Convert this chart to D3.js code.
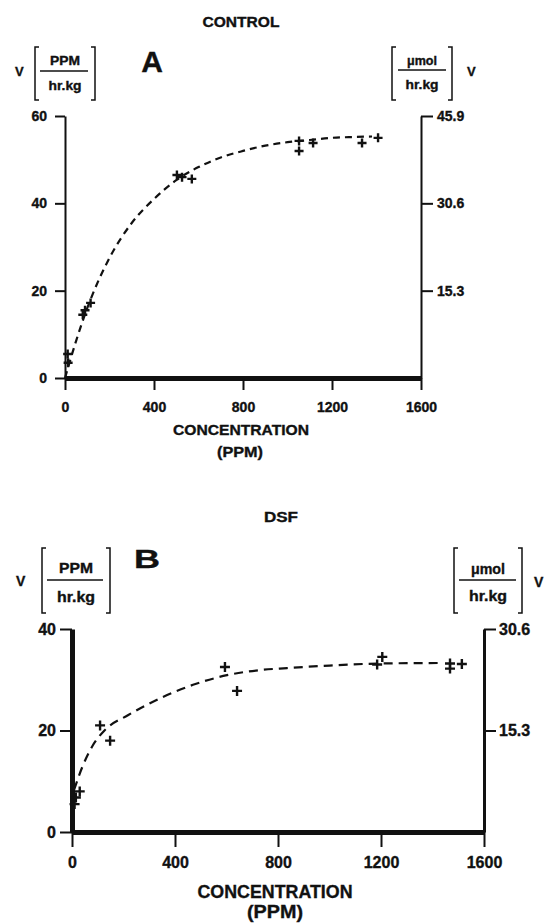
<!DOCTYPE html>
<html>
<head>
<meta charset="utf-8">
<script src="https://cdn.jsdelivr.net/npm/d3@7"></script>
<style>
  body { margin: 0; background: #fff; }
  svg { display: block; }
  text { font-family: "Liberation Sans", Arial, sans-serif; font-weight: bold; fill: #111; stroke: #111; stroke-width: 0.35px; }
</style>
</head>
<body>
<div id="wrapper"></div>
<script>
// Data (concentration in PPM, rate V in PPM/hr.kg)
const xTicks = [0, 400, 800, 1200, 1600];
const yTicksA = [0, 20, 40, 60];
const yTicksB = [0, 20, 40];
const rightTicksA = [15.3, 30.6, 45.9];
const rightTicksB = [15.3, 30.6];
const umolPerPpm = 45.9 / 60;

// Panel A: control
const concA = [12, 14, 80, 90, 115, 503, 526, 570, 1052, 1052, 1115, 1335, 1407];
const rateA = [5.5, 3.5, 14.5, 15.5, 17.2, 46.5, 46.0, 45.6, 54.3, 52.0, 53.8, 53.8, 55.0];
const curveConcA = [0, 50, 100, 200, 300, 400, 500, 600, 700, 800, 900, 1000, 1100, 1200, 1300, 1380];
const curveRateA = [0, 8.5, 16, 27.5, 35.5, 41, 45.3, 48.3, 50.5, 52, 53.2, 54, 54.5, 55, 55.2, 55.3];

// Panel B: DSF
const concB = [10, 15, 30, 109, 148, 594, 641, 1185, 1205, 1468, 1468, 1514];
const rateB = [5.5, 6.8, 8.0, 21.0, 18.0, 32.5, 27.8, 33.0, 34.5, 32.2, 33.2, 33.1];
const curveConcB = [8, 40, 80, 128, 217, 353, 470, 602, 730, 835, 1000, 1200, 1420];
const curveRateB = [8.3, 12.8, 17, 20.1, 23, 26.6, 29, 30.9, 31.9, 32.3, 32.8, 33.2, 33.3];

const svg = d3.select("#wrapper")
  .append("svg")
    .attr("width", 548)
    .attr("height", 923);

function label(str, x, y, size, anchor, len) {
  const t = svg.append("text")
    .attr("x", x)
    .attr("y", y)
    .attr("font-size", size)
    .attr("text-anchor", anchor || "start")
    .text(str);
  if (len) t.attr("textLength", len).attr("lengthAdjust", "spacingAndGlyphs");
  return t;
}

// bracketed unit fraction, e.g. [ PPM / hr.kg ]
function unitBox(b) {
  const g = svg.append("g").attr("fill", "none").attr("stroke", "#111").attr("stroke-width", 1.5);
  g.append("path").attr("d", `M${b.x0 + 4},${b.y0}H${b.x0}V${b.y1}H${b.x0 + 4}`);
  g.append("path").attr("d", `M${b.x1 - 4},${b.y0}H${b.x1}V${b.y1}H${b.x1 - 4}`);
  g.append("line")
    .attr("x1", b.lx0).attr("x2", b.lx1)
    .attr("y1", b.ly).attr("y2", b.ly)
    .attr("stroke-width", 1.5);
  const cx = (b.x0 + b.x1) / 2;
  label(b.num, cx, b.numY, b.size, "middle", b.numLen);
  label(b.den, cx, b.denY, b.size, "middle", b.denLen);
}

function drawPanel(p) {
  const x = d3.scaleLinear().domain([0, 1600]).range([p.left, p.right]);
  const y = d3.scaleLinear().domain([0, p.yMax]).range([p.bottom, p.top]);
  const yR = d3.scaleLinear().domain([0, p.yMax * umolPerPpm]).range([p.bottom, p.top]);

  const left = svg.append("g")
    .attr("transform", `translate(${p.left},0)`)
    .call(d3.axisLeft(y).tickValues(p.yTicks).tickSize(p.tickLen).tickSizeOuter(0)
      .tickPadding(p.padLeft).tickFormat(d3.format("d")));
  left.select(".domain").attr("stroke-width", p.leftW);

  const right = svg.append("g")
    .attr("transform", `translate(${p.right},0)`)
    .call(d3.axisRight(yR).tickValues(p.rightTicks).tickSize(12).tickSizeOuter(0)
      .tickPadding(p.padRight).tickFormat(d3.format(".1f")));
  right.select(".domain").attr("stroke-width", p.rightW);

  const bottom = svg.append("g")
    .attr("transform", `translate(0,${p.bottom})`)
    .call(d3.axisBottom(x).tickValues(xTicks).tickSize(p.xTickLen).tickSizeOuter(0)
      .tickPadding(p.padBottom).tickFormat(d3.format("d")));
  bottom.select(".domain").attr("stroke-width", p.bottomW);

  [left, right, bottom].forEach(a => {
    a.attr("font-family", null).attr("font-size", p.tickFont);
    a.selectAll(".tick line").attr("stroke", "#111").attr("stroke-width", 2);
    a.select(".domain").attr("stroke", "#111");
    a.selectAll(".tick text").attr("fill", "#111");
  });

  const line = d3.line()
    .x(d => x(d[0]))
    .y(d => y(d[1]))
    .curve(d3.curveMonotoneX);

  svg.append("path")
    .datum(p.curveConc.map((c, i) => [c, p.curveRate[i]]))
    .attr("fill", "none")
    .attr("stroke", "#111")
    .attr("stroke-width", 2.2)
    .attr("stroke-dasharray", p.dash)
    .attr("d", line);

  const s = p.crossSize;
  svg.append("g")
    .selectAll("path")
    .data(p.conc.map((c, i) => [c, p.rate[i]]))
    .join("path")
      .attr("transform", d => `translate(${x(d[0])},${y(d[1])})`)
      .attr("d", `M${-s},0H${s}M0,${-s}V${s}`)
      .attr("stroke", "#111")
      .attr("stroke-width", 2.4);
}

// ---------- Panel A ----------
label("CONTROL", 241, 27, 14, "middle", 77);
label("V", 15, 76, 13, "start");
unitBox({ x0: 35, x1: 95, y0: 47, y1: 100, lx0: 40, lx1: 88, ly: 71,
  num: "PPM", numY: 65, numLen: 30, den: "hr.kg", denY: 90, denLen: 33, size: 12 });
label("A", 152, 72, 30, "middle");
unitBox({ x0: 392, x1: 452, y0: 47, y1: 100, lx0: 398, lx1: 446, ly: 70,
  num: "μmol", numY: 65, numLen: 30, den: "hr.kg", denY: 89, denLen: 33, size: 12 });
label("V", 467, 76, 13, "start");

drawPanel({
  left: 65, right: 421, top: 116, bottom: 378, yMax: 60,
  yTicks: yTicksA, rightTicks: rightTicksA,
  tickLen: 10, xTickLen: 12, padLeft: 8, padRight: 4, padBottom: 12,
  leftW: 2, rightW: 2, bottomW: 5, tickFont: 14,
  conc: concA, rate: rateA, curveConc: curveConcA, curveRate: curveRateA,
  dash: "7,5", crossSize: 4.5
});
label("CONCENTRATION", 241, 435, 14, "middle", 136);
label("(PPM)", 240, 457, 14, "middle", 46);

// ---------- Panel B ----------
label("DSF", 281, 522, 14, "middle", 34);
label("V", 16, 586, 14, "start");
unitBox({ x0: 42, x1: 110, y0: 548, y1: 613, lx0: 47, lx1: 103, ly: 580,
  num: "PPM", numY: 573, numLen: 34, den: "hr.kg", denY: 602, denLen: 38, size: 14 });
label("B", 147, 568, 25, "middle", 26);
unitBox({ x0: 454, x1: 522, y0: 548, y1: 613, lx0: 459, lx1: 516, ly: 580,
  num: "μmol", numY: 574, numLen: 34, den: "hr.kg", denY: 601, denLen: 38, size: 14 });
label("V", 534, 587, 14, "start");

drawPanel({
  left: 72, right: 484, top: 629, bottom: 832, yMax: 40,
  yTicks: yTicksB, rightTicks: rightTicksB,
  tickLen: 12, xTickLen: 15, padLeft: 4, padRight: 3, padBottom: 10,
  leftW: 5, rightW: 3, bottomW: 5, tickFont: 16,
  conc: concB, rate: rateB, curveConc: curveConcB, curveRate: curveRateB,
  dash: "9,6", crossSize: 5
});
label("CONCENTRATION", 275, 898, 18, "middle", 155);
label("(PPM)", 275, 918, 18, "middle", 56);
</script>
</body>
</html>
